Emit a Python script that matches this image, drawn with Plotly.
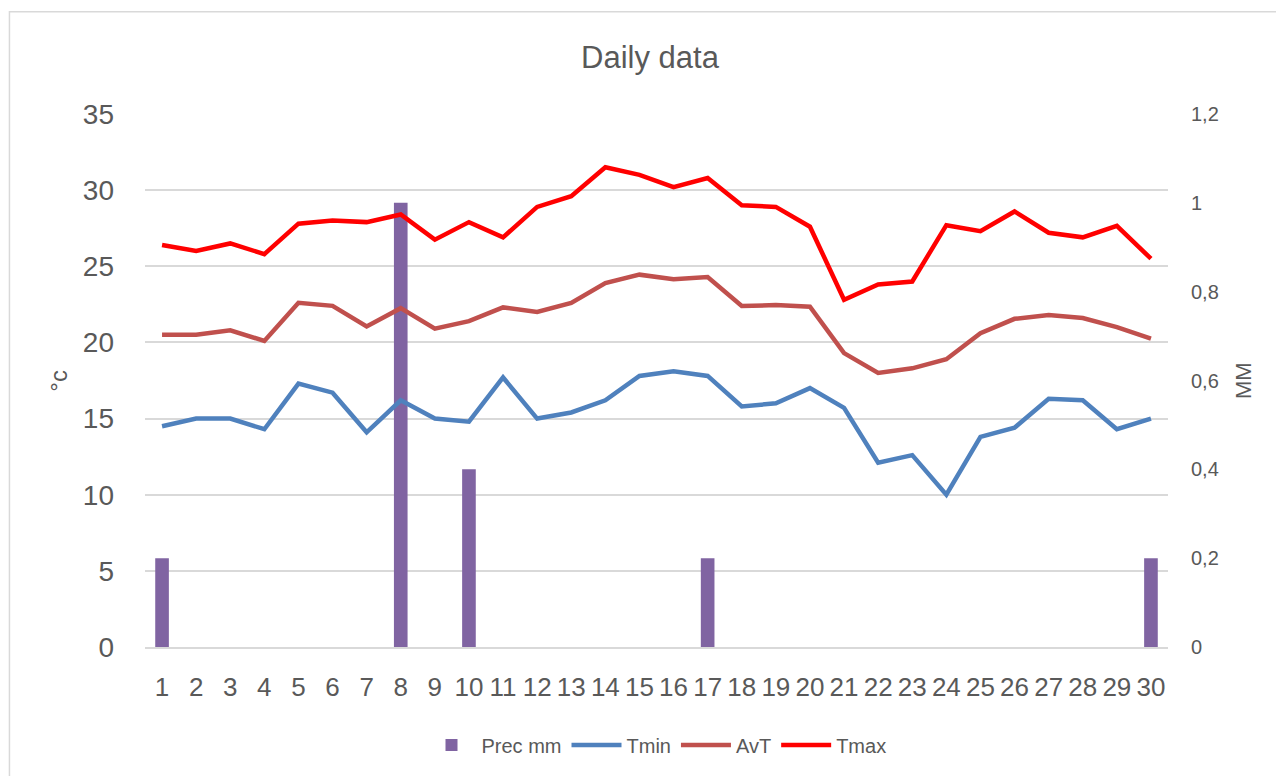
import plotly.graph_objects as go

days = [1, 2, 3, 4, 5, 6, 7, 8, 9, 10, 11, 12, 13, 14, 15,
        16, 17, 18, 19, 20, 21, 22, 23, 24, 25, 26, 27, 28, 29, 30]

prec_mm = [0.2, 0, 0, 0, 0, 0, 0, 1.0, 0, 0.4, 0, 0, 0, 0, 0,
           0, 0.2, 0, 0, 0, 0, 0, 0, 0, 0, 0, 0, 0, 0, 0.2]

tmin = [14.5, 15.0, 15.0, 14.3, 17.3, 16.7, 14.1, 16.2, 15.0, 14.8,
        17.7, 15.0, 15.4, 16.2, 17.8, 18.1, 17.8, 15.8, 16.0, 17.0,
        15.7, 12.1, 12.6, 10.0, 13.8, 14.4, 16.3, 16.2, 14.3, 15.0]

avt = [20.5, 20.5, 20.8, 20.1, 22.6, 22.4, 21.05, 22.25, 20.9, 21.4,
       22.3, 22.0, 22.6, 23.9, 24.45, 24.15, 24.3, 22.4, 22.45, 22.35,
       19.3, 18.0, 18.3, 18.9, 20.6, 21.55, 21.8, 21.6, 21.0, 20.25]

tmax = [26.4, 26.0, 26.5, 25.8, 27.8, 28.0, 27.9, 28.4, 26.75, 27.9,
        26.9, 28.9, 29.6, 31.5, 31.0, 30.2, 30.8, 29.0, 28.9, 27.6,
        22.8, 23.8, 24.0, 27.7, 27.3, 28.6, 27.2, 26.9, 27.65, 25.5]

FONT = "Liberation Sans, Arial, sans-serif"
GREY = "#595959"

fig = go.Figure()
fig.add_trace(go.Bar(x=days, y=prec_mm, name="Prec mm", marker_color="#8064A2",
                     marker_line_width=0, yaxis="y"))
fig.add_trace(go.Scatter(x=days, y=tmin, name="Tmin", mode="lines",
                         line=dict(color="#4F81BD", width=4.5), yaxis="y2"))
fig.add_trace(go.Scatter(x=days, y=avt, name="AvT", mode="lines",
                         line=dict(color="#C0504D", width=4.5), yaxis="y2"))
fig.add_trace(go.Scatter(x=days, y=tmax, name="Tmax", mode="lines",
                         line=dict(color="#FF0000", width=4.5), yaxis="y2"))

fig.update_layout(
    width=1284, height=776,
    margin=dict(l=137, r=124, t=106, b=137),
    paper_bgcolor="white", plot_bgcolor="white",
    separators=", ",
    bargap=0.6,
    title=dict(text="Daily data", x=0.5, xanchor="center", y=0.937, yanchor="middle",
               font=dict(family=FONT, size=31, color=GREY)),
    font=dict(family=FONT, color=GREY),
    xaxis=dict(range=[0.5, 30.5], tickmode="array", tickvals=days, tickangle=0,
               showgrid=False, showline=True, linecolor="#d9d9d9", linewidth=1.5,
               ticks="", tickfont=dict(size=26, color=GREY), ticklabelstandoff=16,
               zeroline=False),
    yaxis=dict(side="right", range=[0, 1.2], dtick=0.2, showgrid=False,
               zeroline=False, ticks="", tickfont=dict(size=20, color=GREY),
               ticklabelstandoff=22),
    yaxis2=dict(overlaying="y", side="left", range=[0, 35], dtick=5,
                showgrid=True, gridcolor="#d9d9d9", gridwidth=1.5,
                zeroline=False, ticks="", tickfont=dict(size=28, color=GREY),
                ticklabelstandoff=30),
    legend=dict(orientation="h", x=0.5, xanchor="center", y=-0.184, yanchor="middle",
                font=dict(size=20, color=GREY), itemwidth=50, traceorder="normal"),
    showlegend=True,
    annotations=[
        dict(text="°c", xref="paper", yref="paper", x=-0.1, y=0.5,
             showarrow=False, textangle=-90, font=dict(size=24, color=GREY)),
        dict(text="MM", xref="paper", yref="paper", x=1.088, y=0.5,
             showarrow=False, textangle=-90, font=dict(size=22, color=GREY)),
    ],
    shapes=[dict(type="rect", xref="paper", yref="paper",
                 x0=-0.1325, y0=1.192, x1=1.5, y1=-0.5,
                 line=dict(color="#d9d9d9", width=1.5), layer="below")],
)

fig.write_html("out.html")
